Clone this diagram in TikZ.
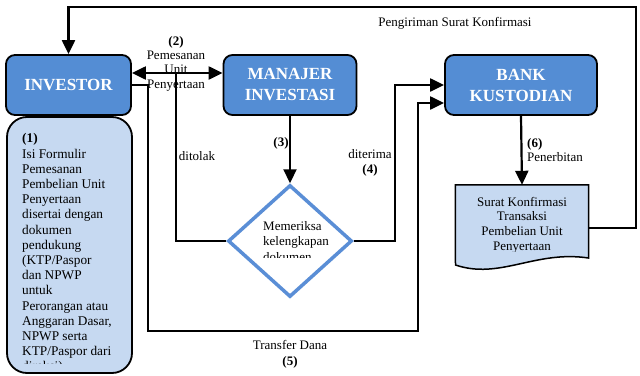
\documentclass[tikz,border=0pt]{standalone}
\usepackage{fontspec}
\setmainfont{Liberation Serif}
\usetikzlibrary{arrows.meta,shapes.geometric}
\definecolor{boxblue}{HTML}{548DD4}
\definecolor{paleblue}{HTML}{C6D9F1}
\definecolor{rimblue}{HTML}{5A8ED6}

\begin{document}
\begin{tikzpicture}[x=1pt,y=-1pt,
  every node/.style={inner sep=0pt},
  entity/.style={draw=black, line width=1.8pt, fill=boxblue, rounded corners=9pt,
    text=white, font=\fontsize{17}{21}\selectfont\bfseries, align=center,
    minimum height=60pt},
  link/.style={line width=2.2pt, draw=black},
  tip/.style={-{Triangle[length=14pt,width=13pt]}},
  bothtips/.style={{Triangle[length=14pt,width=13pt]}-{Triangle[length=14pt,width=13pt]}},
  lbl/.style={font=\fontsize{13}{14.5}\selectfont, align=center},
  lblb/.style={font=\fontsize{13}{14.5}\selectfont\bfseries, align=center},
  body/.style={font=\fontsize{13.3}{15.2}\selectfont, align=left},
]
\fill[white] (0,0) rectangle (640,375);
\useasboundingbox (0,0) rectangle (640,375);

% main parties
\node[entity, minimum width=125pt] (investor) at (68.5,85) {INVESTOR};
\node[entity, minimum width=133pt] (manajer) at (290,85) {MANAJER\\INVESTASI};
\node[entity, minimum width=152pt] (bank) at (521,85) {BANK\\KUSTODIAN};

% investor's order description
\node[draw=black, line width=1.8pt, fill=paleblue, rounded corners=20pt,
  minimum width=125pt, minimum height=256pt] (notes) at (69.5,245) {};
\begin{scope}
  \clip (7,117) rectangle (132,363.5);
  \node[body, anchor=north west] (steps) at (22,133.5)
    {\textbf{(1)}\\Isi Formulir\\Pemesanan\\Pembelian Unit\\Penyertaan\\disertai dengan\\dokumen\\pendukung\\(KTP/Paspor\\dan NPWP\\untuk\\Perorangan atau\\Anggaran Dasar,\\NPWP serta\\KTP/Paspor dari\\direksi)};
\end{scope}

% document check
\node[draw=rimblue, line width=3.5pt, fill=white, shape=diamond,
  minimum width=124pt, minimum height=112pt] (chk) at (290,241) {};
\begin{scope}
  \clip (228,185) rectangle (352,257);
  \node[body, anchor=north west, font=\fontsize{13}{15.5}\selectfont] (chktext) at (263,221)
    {Memeriksa\\kelengkapan\\dokumen};
\end{scope}

% confirmation letter (document shape)
\node[minimum width=133pt, minimum height=86pt] (surat) at (522,228) {};
\draw[line width=1.5pt, fill=paleblue] (surat.north west) -- (surat.north east)
  -- (588.5,258) .. controls (535,250) and (500,280) .. (455.5,265) -- cycle;
\begin{scope}
  \clip (456,186) rectangle (588,251);
  \node[lbl, anchor=north, font=\fontsize{13}{14.6}\selectfont] (surattext) at (522,197)
    {Surat Konfirmasi\\Transaksi\\Pembelian Unit\\Penyertaan};
\end{scope}

% connectors
\coordinate (topR) at (636,7);
\draw[link, tip] (surat.east) -| (topR) -| (investor.north);

\draw[link, bothtips] ([yshift=12pt]investor.east) -- ([yshift=12pt]manajer.west);

\coordinate (tolak) at (176,73);
\draw[link] (chk.west) -| (tolak);

\coordinate (t1) at (148,85);
\coordinate (t2) at (148,331);
\coordinate (t3) at (418,331);
\draw[link, tip] (investor.east) -- (t1) -- (t2) -- (t3) |- ([yshift=-18pt]bank.west);

\coordinate (acc) at (395,85);
\draw[link, tip] (chk.east) -| (acc) -- (bank.west);

\draw[link, tip] (manajer.south) -- (chk.north);
\draw[link, tip] (bank.south) -- (surat.north);

% labels
\node[lblb] (n2) at (176,42) {(2)};
\node[lbl] (pesan) at (176,71) {Pemesanan\\Unit\\Penyertaan};
\node[lbl] (kirim) at (455,23) {Pengiriman Surat Konfirmasi};
\node[lbl] (tolaklbl) at (197,156) {ditolak};
\node[lbl] (terima) at (370,154) {diterima};
\node[lblb] (n4) at (370,170) {(4)};
\node[lblb] (n3) at (281,143) {(3)};
\node[lblb, anchor=west] (n6) at (527,144) {(6)};
\node[lbl, anchor=west] (terbit) at (527,157) {Penerbitan};
\node[lbl] (transfer) at (290,345) {Transfer Dana};
\node[lblb] (n5) at (290,362) {(5)};
\end{tikzpicture}
\end{document}
